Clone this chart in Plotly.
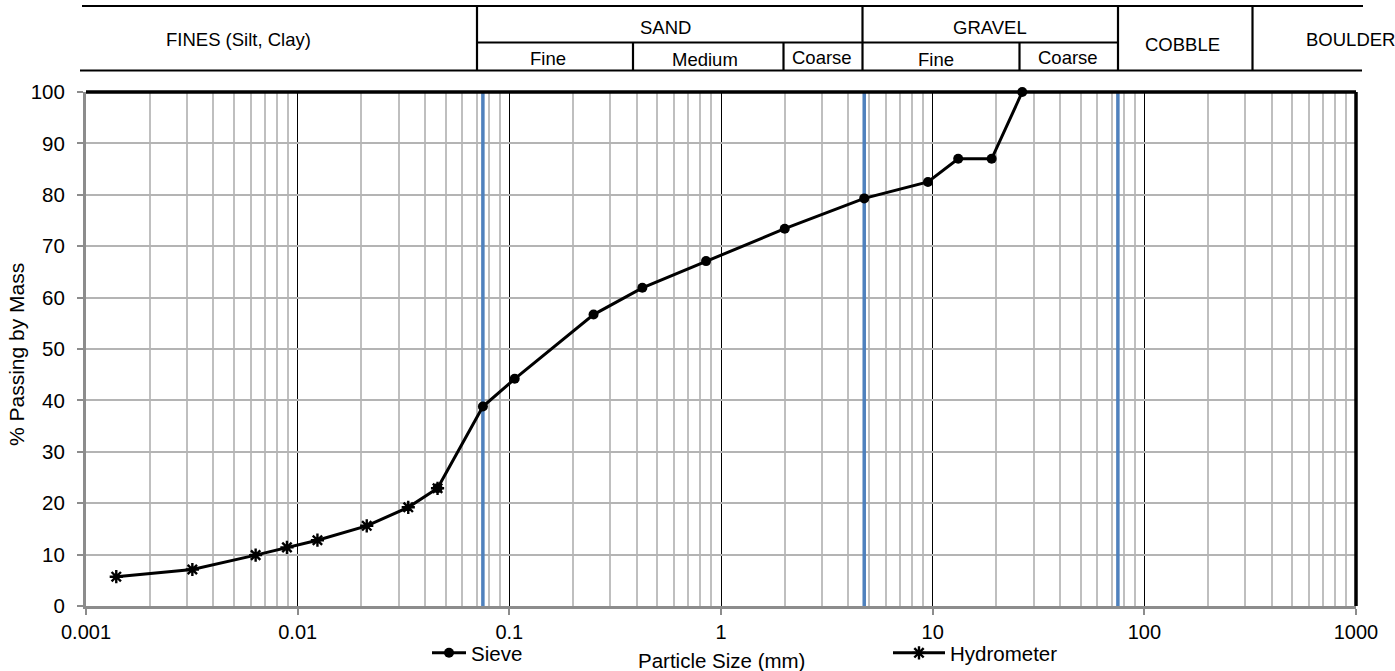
import plotly.graph_objects as go

# ---------------- data ----------------
sieve_size = [0.0458, 0.075, 0.106, 0.25, 0.425, 0.85, 2.0, 4.75, 9.5, 13.2, 19.0, 26.5]
sieve_pass = [22.9, 38.8, 44.2, 56.7, 61.9, 67.1, 73.4, 79.3, 82.5, 87.0, 87.0, 100.0]

hydro_size = [0.00139, 0.00318, 0.00633, 0.0089, 0.0124, 0.0212, 0.0333, 0.0458]
hydro_pass = [5.7, 7.1, 9.9, 11.4, 12.8, 15.6, 19.2, 22.9]

boundary_sizes = [0.075, 4.75, 75]          # blue class-boundary lines (mm)

x_tickvals = [0.001, 0.01, 0.1, 1, 10, 100, 1000]
x_ticktext = ["0.001", "0.01", "0.1", "1", "10", "100", "1000"]
y_tickvals = list(range(0, 101, 10))

header_main = ["FINES (Silt, Clay)", "SAND", "GRAVEL", "COBBLE", "BOULDER"]
header_sub = ["Fine", "Medium", "Coarse", "Fine", "Coarse"]

# ---------------- layout helpers (pixel -> paper) ----------------
W, H = 1395, 671
L, R, T, B = 86, 1356, 92, 606


def px(x):
    return (x - L) / (R - L)


def py(y):
    return (B - y) / (B - T)


FONT = "Liberation Sans, Arial, sans-serif"
fig = go.Figure()

# blue boundary lines
for s in boundary_sizes:
    fig.add_trace(go.Scatter(x=[s, s], y=[0, 100], mode="lines",
                             line=dict(color="#4f81bd", width=3.5),
                             showlegend=False, hoverinfo="skip"))

fig.add_trace(go.Scatter(x=sieve_size, y=sieve_pass, mode="lines+markers", name="Sieve",
                         line=dict(color="black", width=3),
                         marker=dict(symbol="circle", size=10, color="black"),
                         cliponaxis=False, legend="legend"))
fig.add_trace(go.Scatter(x=hydro_size, y=hydro_pass, mode="lines+markers", name="Hydrometer",
                         line=dict(color="black", width=3),
                         marker=dict(symbol="asterisk-open", size=11,
                                     line=dict(color="black", width=2.4)),
                         cliponaxis=False, legend="legend2"))

minor_vals = [m * 10 ** e for e in range(-3, 3) for m in range(2, 10)]

fig.update_xaxes(type="log", range=[-3, 3],
                 tickmode="array", tickvals=x_tickvals, ticktext=x_ticktext,
                 showgrid=True, gridcolor="black", gridwidth=1.3,
                 showline=True, linecolor="#8c8c8c", linewidth=3,
                 ticks="outside", ticklen=6, tickcolor="#8c8c8c", tickwidth=1.5,
                 ticklabelstandoff=0, automargin=False,
                 tickfont=dict(family=FONT, size=20, color="black"),
                 minor=dict(tickmode="array", tickvals=minor_vals, showgrid=True,
                            gridcolor="#bfbfbf", gridwidth=2, ticks=""),
                 zeroline=False, fixedrange=True)
fig.update_yaxes(range=[0, 100], tickmode="array", tickvals=y_tickvals,
                 showgrid=True, gridcolor="#b4b4b4", gridwidth=1.6,
                 showline=True, linecolor="#8c8c8c", linewidth=3,
                 ticks="outside", ticklen=6, tickcolor="#8c8c8c", tickwidth=1.5,
                 ticklabelstandoff=8, automargin=False,
                 tickfont=dict(family=FONT, size=20.5, color="black"),
                 zeroline=False, fixedrange=True)

shapes = []
# plot frame top/right (black)
shapes.append(dict(type="line", xref="paper", yref="paper", x0=0, x1=1, y0=1, y1=1,
                   line=dict(color="black", width=3.5), layer="above"))
shapes.append(dict(type="line", xref="paper", yref="paper", x0=1, x1=1, y0=0, y1=1,
                   line=dict(color="black", width=3.5), layer="above"))

# header table
hl = dict(color="black", width=2.2)
shapes.append(dict(type="line", xref="paper", yref="paper", x0=px(82), x1=px(1363),
                   y0=py(6), y1=py(6), line=hl))
shapes.append(dict(type="line", xref="paper", yref="paper", x0=px(80), x1=px(1362),
                   y0=py(70.5), y1=py(70.5), line=hl))
shapes.append(dict(type="line", xref="paper", yref="paper", x0=px(477), x1=px(1118),
                   y0=py(42.5), y1=py(42.5), line=hl))
for xv in [477, 862.5, 1118, 1252.5]:
    shapes.append(dict(type="line", xref="paper", yref="paper", x0=px(xv), x1=px(xv),
                       y0=py(6), y1=py(70.5), line=hl))
for xv in [633, 783.5, 1019.5]:
    shapes.append(dict(type="line", xref="paper", yref="paper", x0=px(xv), x1=px(xv),
                       y0=py(42.5), y1=py(70.5), line=hl))

annotations = []
HF = dict(family=FONT, size=18.5, color="black")
main_pos = [(238, 40), (665, 27), (990, 27), (1182, 44), (1350, 40)]
for t, (xx, yy) in zip(header_main, main_pos):
    annotations.append(dict(text=t, x=px(xx), y=py(yy), xref="paper", yref="paper",
                            showarrow=False, xanchor="center", yanchor="middle", font=HF))
sub_pos = [(548, 58), (705, 59.5), (822, 57.5), (936, 59.5), (1068, 57.5)]
for t, (xx, yy) in zip(header_sub, sub_pos):
    annotations.append(dict(text=t, x=px(xx), y=py(yy), xref="paper", yref="paper",
                            showarrow=False, xanchor="center", yanchor="middle", font=HF))

# axis titles
annotations.append(dict(text="Particle Size (mm)", x=px(721), y=py(660), xref="paper", yref="paper",
                        showarrow=False, xanchor="center", yanchor="middle",
                        font=dict(family=FONT, size=20.5, color="black")))
annotations.append(dict(text="% Passing by Mass", x=px(16), y=py(355), xref="paper", yref="paper",
                        showarrow=False, xanchor="center", yanchor="middle", textangle=-90,
                        font=dict(family=FONT, size=21, color="black")))

fig.update_layout(
    width=W, height=H,
    margin=dict(l=L, r=W - R, t=T, b=H - B, autoexpand=False),
    paper_bgcolor="white", plot_bgcolor="white",
    shapes=shapes, annotations=annotations,
    showlegend=True,
    legend=dict(x=px(427), y=py(653), xanchor="left", yanchor="middle",
                orientation="h", bgcolor="rgba(0,0,0,0)", itemwidth=34,
                font=dict(family=FONT, size=20.5, color="black")),
    legend2=dict(x=px(888), y=py(653), xanchor="left", yanchor="middle",
                 orientation="h", bgcolor="rgba(0,0,0,0)", itemwidth=52,
                 font=dict(family=FONT, size=20.5, color="black")),
    font=dict(family=FONT, color="black"),
)

fig.write_html("out.html", config={"displayModeBar": False},
               post_script="document.body.style.margin='0';document.body.style.overflow='hidden';")
